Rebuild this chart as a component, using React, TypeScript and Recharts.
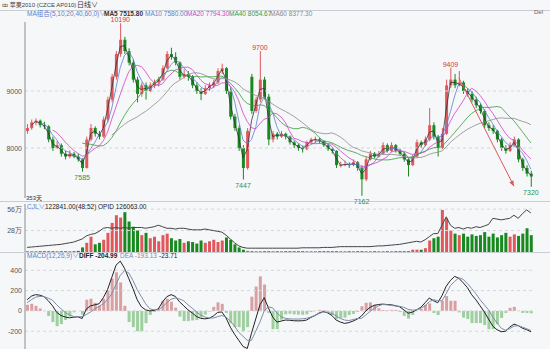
import React from 'react';
import { ComposedChart, Bar, Line, XAxis, YAxis, ReferenceLine, ReferenceDot, Cell } from 'recharts';

// ---- price data (one candle ≈ 3 trading sessions) ----
const opens = [
  8300, 8350, 8450, 8480, 8400, 8380, 8150, 8000, 8050, 7900,
  7850, 7900, 7850, 7800, 7650, 8150, 8350, 8250, 8200, 8500,
  8850, 9250, 9650, 9900, 9700, 9500, 9200, 8950, 9100, 9000,
  9100, 9150, 9200, 9400, 9650, 9600, 9500, 9250, 9300, 9250,
  9100, 9000, 8950, 9050, 9100, 9150, 9350, 9400, 9000, 8550,
  8350, 8000, 7650, 9250, 8650, 8850, 9200, 8900, 8150, 8250,
  8200, 8250, 8200, 8100, 8050, 8000, 7980, 8100, 8150, 8150,
  8120, 8050, 7980, 7950, 7700, 7700, 7720, 7700, 7750, 7650,
  7450, 7800, 7900, 7850, 7900, 8050, 7950, 8050, 7950, 7900,
  7800, 7700, 7850, 8100, 8050, 8150, 8400, 8200, 8000, 8250,
  9100, 9200, 9100, 9150, 9000, 8950, 8850, 8750, 8650, 8400,
  8350, 8300, 8150, 8000, 7950, 8050, 8150, 7800, 7650, 7550,
];
const highs = [
  8420, 8500, 8520, 8500, 8460, 8400, 8200, 8120, 8080, 7950,
  7960, 7930, 7900, 7820, 8200, 8420, 8380, 8300, 8550, 8900,
  9300, 9700, 10190, 9950, 9750, 9550, 9250, 9150, 9150, 9150,
  9200, 9250, 9450, 9700, 9760, 9680, 9520, 9380, 9350, 9280,
  9150, 9050, 9100, 9150, 9200, 9400, 9480, 9420, 9050, 8600,
  8400, 8050, 8350, 9300, 8900, 9700, 9250, 8950, 8300, 8280,
  8300, 8270, 8220, 8130, 8080, 8040, 8130, 8180, 8200, 8180,
  8140, 8080, 8000, 7960, 7760, 7780, 7750, 7800, 7770, 7700,
  7850, 7950, 7930, 7950, 8100, 8080, 8100, 8070, 7990, 7930,
  7820, 7880, 8150, 8130, 8200, 8700, 8450, 8230, 8350, 9200,
  9409, 9300, 9350, 9180, 9050, 9000, 8900, 8780, 8680, 8450,
  8400, 8320, 8180, 8050, 8100, 8200, 8170, 7830, 7700, 7600,
];
const lows = [
  8250, 8320, 8400, 8360, 8330, 8100, 7950, 7980, 7850, 7800,
  7820, 7820, 7760, 7585, 7640, 8120, 8200, 8150, 8180, 8450,
  8800, 9200, 9600, 9650, 9450, 9150, 8800, 8900, 8850, 8980,
  9050, 9080, 9180, 9380, 9550, 9450, 9200, 9220, 9180, 9050,
  8950, 8840, 8930, 9000, 9050, 9120, 9300, 8950, 8500, 8300,
  7950, 7447, 7620, 8600, 8620, 8800, 8850, 8050, 8100, 8150,
  8180, 8150, 8060, 8000, 7950, 7920, 7960, 8080, 8100, 8080,
  8020, 7950, 7900, 7650, 7660, 7680, 7650, 7680, 7600, 7162,
  7420, 7780, 7820, 7830, 7880, 7920, 7930, 7920, 7870, 7760,
  7500, 7680, 7830, 8000, 8030, 8120, 8150, 7850, 7980, 8230,
  9050, 9050, 9080, 8950, 8900, 8800, 8700, 8600, 8350, 8300,
  8250, 8100, 7950, 7900, 7930, 8030, 7750, 7600, 7500, 7320,
];
const closes = [
  8350, 8450, 8480, 8400, 8380, 8150, 8000, 8050, 7900, 7850,
  7900, 7850, 7800, 7650, 8150, 8350, 8250, 8200, 8500, 8850,
  9250, 9650, 9900, 9700, 9500, 9200, 8950, 9100, 9000, 9100,
  9150, 9200, 9400, 9650, 9600, 9500, 9250, 9300, 9250, 9100,
  9000, 8950, 9050, 9100, 9150, 9350, 9400, 9000, 8550, 8350,
  8000, 7650, 8300, 8650, 8850, 9200, 8900, 8150, 8250, 8200,
  8250, 8200, 8100, 8050, 8000, 7980, 8100, 8150, 8150, 8120,
  8050, 7980, 7950, 7700, 7700, 7720, 7700, 7750, 7650, 7450,
  7800, 7900, 7850, 7900, 8050, 7950, 8050, 7950, 7900, 7800,
  7700, 7850, 8100, 8050, 8150, 8400, 8200, 8000, 8250, 9100,
  9200, 9100, 9150, 9000, 8950, 8850, 8750, 8650, 8400, 8350,
  8300, 8150, 8000, 7950, 8050, 8150, 7800, 7650, 7550, 7500,
];
// volume and open interest, in 万
const volumes = [
  1, 1, 1, 1, 1, 1, 1, 1, 1, 1,
  1, 1, 1.5, 6, 12, 20, 10, 12, 16, 25,
  38, 48, 45, 52, 40, 33, 28, 22, 25, 18,
  20, 14, 22, 24, 18, 15, 17, 12, 14, 13,
  11, 15, 12, 14, 16, 13, 15, 19, 16, 10,
  6, 3, 1.5, 1, 1, 1, 1, 1, 1, 1,
  1, 1, 1, 1, 1, 1, 1, 1, 1, 1,
  1, 1, 1, 1, 1, 1, 1, 1, 1, 1,
  1, 1, 1, 1, 1, 1, 1, 1, 1, 1,
  1, 3, 3, 3, 5, 15, 18, 20, 55, 44,
  28, 24, 22, 24, 20, 23, 21, 22, 26, 20,
  24, 19, 22, 25, 20, 23, 21, 24, 31, 22,
];
const openInterest = [
  6, 6.5, 7, 7.5, 8, 8.5, 9, 9.5, 10, 11,
  12, 13, 15, 17, 21, 23, 24, 27, 31, 32,
  31, 32, 31, 32, 31, 32, 32, 32, 31, 32,
  33, 35, 33, 31, 31, 30, 31, 31, 30, 29,
  29, 29, 30, 29, 28, 27, 26, 22, 17, 12,
  8, 6, 5, 5, 5, 5, 5, 5, 5, 5,
  5, 5, 5, 5, 5, 5.5, 5.5, 5.5, 5.5, 5.5,
  6, 6, 6, 6.5, 7, 7, 7, 7, 7, 7,
  7, 7, 7.5, 8, 8, 8.5, 9, 9.5, 10, 11,
  12, 13, 14, 13, 16, 20, 24, 24, 35, 46,
  35, 31, 32, 30, 32, 31, 33, 32, 34, 36,
  44, 43, 42, 43, 44, 48, 44, 50, 55, 51,
];
// MACD lines
const diffValues = [
  110, 145, 160, 155, 140, 100, 50, -15, -45, -60,
  -68, -62, -58, -75, 20, 50, 60, 70, 130, 210,
  330, 450, 490, 420, 320, 220, 110, 40, 10, 0,
  5, 20, 90, 140, 160, 143, 90, 50, 10, -20,
  -55, -73, -78, -73, -50, -15, -10, -70, -160, -230,
  -290, -350, -370, -220, -80, 60, 130, 30, -60, -110,
  -100, -90, -92, -97, -98, -97, -90, -65, -45, -20,
  -7, -20, -45, -90, -110, -123, -115, -100, -80, -50,
  0, 35, 55, 63, 67, 63, 60, 52, 40, 10,
  -23, -12, 10, 35, 80, 127, 100, 80, 150, 243,
  300, 340, 320, 277, 230, 160, 110, 50, -10, -80,
  -150, -185, -205, -200, -160, -130, -145, -170, -185, -205,
];
const deaValues = [
  80, 110, 135, 143, 140, 125, 105, 60, 20, -15,
  -40, -55, -58, -57, -35, -10, 20, 45, 70, 110,
  170, 260, 350, 395, 375, 300, 210, 140, 70, 20,
  10, 12, 40, 80, 115, 127, 118, 100, 60, 27,
  -10, -40, -60, -70, -70, -57, -45, -60, -100, -150,
  -210, -250, -290, -290, -200, -110, 0, 40, 30, -20,
  -57, -73, -78, -80, -80, -78, -73, -60, -45, -25,
  -10, -15, -25, -50, -75, -90, -95, -85, -75, -73,
  -40, -7, 25, 50, 63, 60, 55, 48, 45, 35,
  15, 8, 10, 25, 50, 90, 110, 100, 100, 170,
  250, 290, 327, 310, 270, 220, 170, 110, 60, 10,
  -60, -120, -170, -190, -175, -150, -145, -160, -175, -193,
];

const priceTicks = [8000, 9000];
const volumeTicks = [28, 56];
const macdTicks = [-200, 0, 200, 400];
const maNames = ['MA5', 'MA10', 'MA20', 'MA40', 'MA60'];
const maCandlePeriods = [2, 4, 7, 14, 21];
const maLegendValues = ['7515.80', '7580.00', '7794.30', '8054.67', '8377.30'];
const extremes = [
  { idx: 22, kind: 'high' }, { idx: 55, kind: 'high' }, { idx: 100, kind: 'high' },
  { idx: 13, kind: 'low' }, { idx: 51, kind: 'low' }, { idx: 79, kind: 'low' }, { idx: 119, kind: 'low' },
];
const trendArrow = [{ idx: 102, price: 9230 }, { idx: 115, price: 7330 }];

const RED = '#e0575c';
const GREEN = '#17891f';
const MA_COLORS = ['#333333', '#5a7fd0', '#d43fc4', '#3a9a3a', '#8a8a8a'];
const FONT = '"Liberation Sans", Arial, "Noto Sans CJK SC", sans-serif';
const BG = '#f6f7f9';

function movingAverage(values: number[], period: number): (number | null)[] {
  return values.map((_, i) => {
    if (i < period - 1) return null;
    let s = 0;
    for (let k = i - period + 1; k <= i; k++) s += values[k];
    return s / period;
  });
}

const maSeries = maCandlePeriods.map((p) => movingAverage(closes, p));

const data = closes.map((c, i) => {
  const row: any = {
    idx: i,
    open: opens[i],
    high: highs[i],
    low: lows[i],
    close: c,
    range: [lows[i], highs[i]],
    vol: volumes[i],
    oi: openInterest[i],
    diff: diffValues[i],
    dea: deaValues[i],
    hist: 2 * (diffValues[i] - deaValues[i]),
    up: c >= opens[i],
  };
  maNames.forEach((n, k) => { row[n] = maSeries[k][i]; });
  const a = trendArrow.find((t) => t.idx === i);
  row.arrow = a ? a.price : null;
  return row;
});

const Candle = (props: any) => {
  const { x, y, width, height, payload } = props;
  if (!payload || x == null || y == null) return null;
  const { open, high, low, close } = payload;
  const top = Math.min(y, y + height);
  const bottom = Math.max(y, y + height);
  const ppu = (bottom - top) / (high - low || 1);
  const yo = top + (high - open) * ppu;
  const yc = top + (high - close) * ppu;
  const color = close >= open ? RED : GREEN;
  const cx = x + width / 2;
  return (
    <g>
      <line x1={cx} x2={cx} y1={top} y2={bottom} stroke={color} strokeWidth={1} />
      <rect x={x} y={Math.min(yo, yc)} width={width} height={Math.max(1, Math.abs(yc - yo))} fill={color} />
    </g>
  );
};

const ArrowDot = (props: any) => {
  const { cx, cy, index } = props;
  if (index !== trendArrow[1].idx || cx == null) return <g key={index} />;
  const ang = Math.atan2(108, 57);
  const len = 6;
  const a1 = ang + Math.PI - 0.4;
  const a2 = ang + Math.PI + 0.4;
  return (
    <polygon
      key={index}
      points={`${cx},${cy} ${cx + len * Math.cos(a1)},${cy + len * Math.sin(a1)} ${cx + len * Math.cos(a2)},${cy + len * Math.sin(a2)}`}
      fill={RED}
    />
  );
};

const tickStyle = { fontSize: 7, fill: '#555', fontFamily: FONT };
const txt = (left: number, top: number, color: string, s: string, extra: any = {}) => (
  <div style={{ position: 'absolute', left, top, color, fontSize: 6.5, lineHeight: '8px', whiteSpace: 'nowrap', fontFamily: FONT, ...extra }}>{s}</div>
);
const hline = (top: number) => (
  <div style={{ position: 'absolute', left: 0, top, width: 550, height: 0, borderTop: '1px solid #c9ccd2' }} />
);

export default function App() {
  return (
    <div style={{ position: 'absolute', left: 0, top: 0, width: 550, height: 349, background: BG, overflow: 'hidden' }}>
      {hline(10)}
      {hline(201)}
      {hline(252)}

      {/* volume / open interest panel */}
      <div style={{ position: 'absolute', left: 0, top: 201 }}>
        <ComposedChart width={550} height={51} data={data} margin={{ top: 3, right: 17, bottom: 0, left: 0 }}>
          <XAxis dataKey="idx" hide />
          <YAxis width={25} domain={[0, 62.7]} ticks={volumeTicks} tickFormatter={(v) => `${v}万`} tick={tickStyle}
            tickLine={false} tickSize={0} tickMargin={3} axisLine={{ stroke: '#8c8c8c' }} allowDataOverflow />
          {volumeTicks.map((t) => (
            <ReferenceLine key={t} y={t} stroke="#d3d6db" strokeDasharray="3 3" />
          ))}
          <Bar dataKey="vol" barSize={3} isAnimationActive={false}>
            {data.map((d) => (
              <Cell key={d.idx} fill={d.up ? RED : GREEN} />
            ))}
          </Bar>
          <Line dataKey="oi" stroke="#444" strokeWidth={1} dot={false} isAnimationActive={false} />
        </ComposedChart>
      </div>

      {/* MACD panel */}
      <div style={{ position: 'absolute', left: 0, top: 252 }}>
        <ComposedChart width={550} height={97} data={data} margin={{ top: 1, right: 17, bottom: 0, left: 0 }}>
          <XAxis dataKey="idx" hide />
          <YAxis width={25} domain={[-375, 570]} ticks={macdTicks} tick={tickStyle}
            tickLine={false} tickSize={0} tickMargin={3} axisLine={{ stroke: '#8c8c8c' }} allowDataOverflow />
          {macdTicks.map((t) => (
            <ReferenceLine key={t} y={t} stroke="#d3d6db" strokeDasharray="3 3" />
          ))}
          <Bar dataKey="hist" barSize={3} isAnimationActive={false}>
            {data.map((d) => (
              <Cell key={d.idx} fill={d.hist >= 0 ? '#d9a0a2' : '#9fcf9f'} />
            ))}
          </Bar>
          <Line dataKey="diff" stroke="#222" strokeWidth={1} dot={false} isAnimationActive={false} />
          <Line dataKey="dea" stroke="#7f8ca8" strokeWidth={1} dot={false} isAnimationActive={false} />
        </ComposedChart>
      </div>

      {/* price panel */}
      <div style={{ position: 'absolute', left: 0, top: 0 }}>
        <ComposedChart width={550} height={210} data={data} margin={{ top: 22, right: 17, bottom: 12, left: 0 }}>
          <XAxis dataKey="idx" hide />
          <YAxis width={25} domain={[7123, 10211]} ticks={priceTicks} tick={tickStyle}
            tickLine={false} tickSize={0} tickMargin={3} axisLine={{ stroke: '#8c8c8c' }} allowDataOverflow />
          {priceTicks.map((t) => (
            <ReferenceLine key={t} y={t} stroke="#d3d6db" strokeDasharray="3 3" />
          ))}
          {maNames.map((n, k) => (
            <Line key={n} dataKey={n} stroke={MA_COLORS[k]} strokeWidth={0.8} dot={false} isAnimationActive={false} />
          ))}
          <Bar dataKey="range" barSize={3} shape={(p: any) => <Candle {...p} />} isAnimationActive={false} />
          <Line dataKey="arrow" stroke={RED} strokeWidth={1} connectNulls dot={(p: any) => <ArrowDot {...p} />} isAnimationActive={false} />
          {extremes.map((e) => {
            const isHigh = e.kind === 'high';
            const v = isHigh ? highs[e.idx] : lows[e.idx];
            return (
              <ReferenceDot key={e.idx} x={e.idx} y={v} r={0} fill="none" stroke="none"
                label={{ value: String(v), position: isHigh ? 'top' : 'bottom', offset: isHigh ? 1 : 3, fill: isHigh ? '#d23a3a' : '#2f8f55', fontSize: 7, fontFamily: FONT }} />
            );
          })}
        </ComposedChart>
      </div>

      {/* texts */}
      {txt(2, 1, '#444', 'ꝏ 苹果2010 (CZCE AP010)', { fontSize: 6 })}
      {txt(77, 0.5, '#333', '日线∨', { fontSize: 7 })}
      {txt(534, 8, '#666', 'Del', { fontSize: 6 })}
      {txt(27, 9.5, '#5a7fd0', 'MA组合(5,10,20,40,60,0)∨')}
      {maNames.map((n, k) => txt([104, 145, 187, 229, 270][k], 9.5, MA_COLORS[k], `${n} ${maLegendValues[k]}`, k === 0 ? { fontWeight: 'bold' } : {}))}
      {txt(26, 194, '#333', '353天', { fontSize: 6 })}
      {txt(27, 203, '#5a7fd0', 'CJL∨')}
      {txt(45, 203, '#222', '122841.00(48:52)')}
      {txt(98, 203, '#222', 'OPID 126063.00')}
      {txt(27, 252, '#5a7fd0', 'MACD(12,26,9)∨')}
      {txt(79, 252, '#222', 'DIFF -204.99', { fontWeight: 'bold' })}
      {txt(120, 252, '#7f8ca8', 'DEA -193.13')}
      {txt(159, 252, '#222', '-23.71')}
    </div>
  );
}
